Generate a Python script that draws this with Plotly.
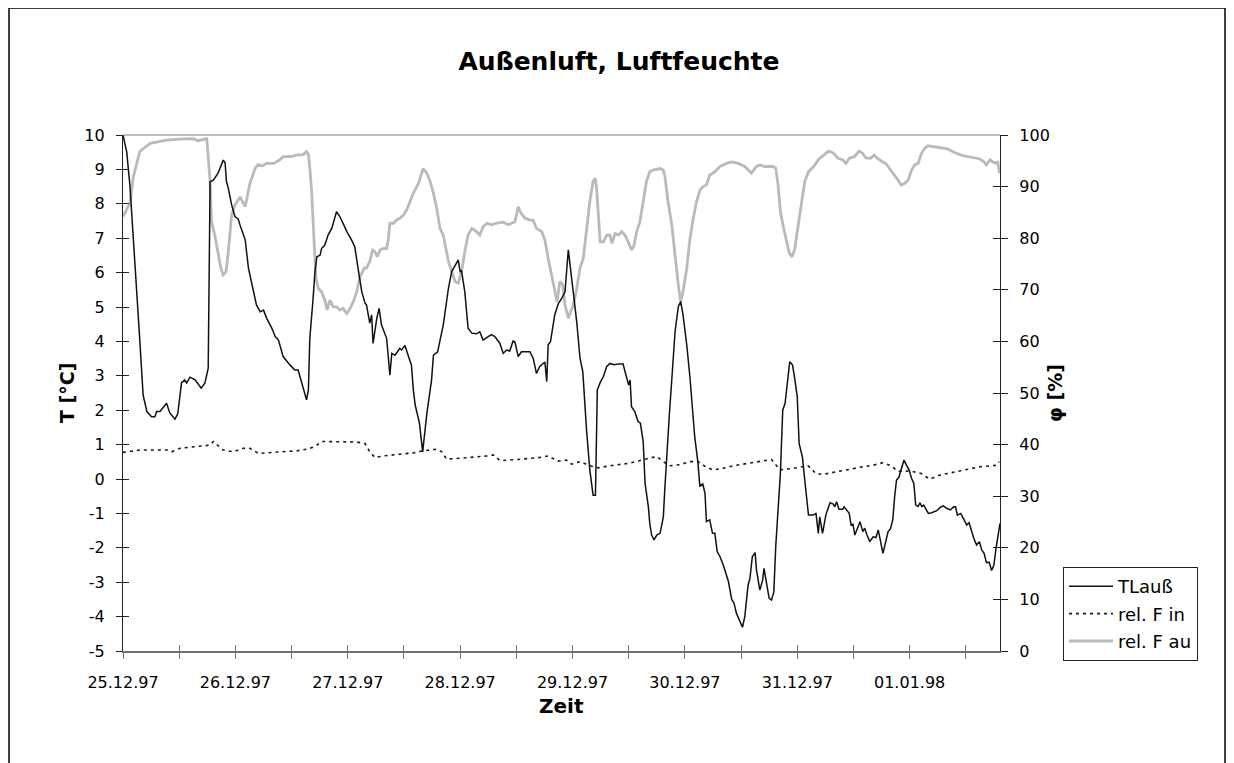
import plotly.graph_objects as go

# ---------------- data (time in hours since 25.12.97 00:00) ----------------
day_labels = ["25.12.97", "26.12.97", "27.12.97", "28.12.97",
              "29.12.97", "30.12.97", "31.12.97", "01.01.98"]
t_ticks = [-5, -4, -3, -2, -1, 0, 1, 2, 3, 4, 5, 6, 7, 8, 9, 10]
phi_ticks = [0, 10, 20, 30, 40, 50, 60, 70, 80, 90, 100]

t_hours = [0, 0.8, 1.5, 1.9, 2.2, 3.6, 4.3, 5.1, 6.1, 6.8, 7.2, 7.9, 9.3, 10.0, 11.1, 11.7,
           12.5, 13.2, 13.6, 14.3, 15.4, 16.7, 17.5, 18.2, 18.6, 19.3, 20.3, 21.4, 21.8, 22.1,
           22.5, 23.2, 23.9, 24.6, 25.0, 25.7, 26.1, 26.8, 27.5, 28.5, 29.3, 30.0, 30.7, 31.8,
           32.5, 33.2, 34.2, 35.0, 35.7, 36.7, 37.4, 38.5, 39.2, 39.6, 39.9, 40.6, 41.0, 41.4,
           42.1, 42.4, 43.1, 43.8, 44.6, 45.6, 46.3, 47.0, 47.8, 48.8, 49.5, 50.2, 51.0, 51.7,
           52.0, 52.7, 53.1, 53.4, 54.2, 54.7, 55.2, 56.3, 57.0, 57.4, 58.1, 59.1, 59.5, 60.2,
           60.9, 61.6, 62.0, 62.4, 63.3, 64.0, 64.9, 65.9, 66.3, 67.2, 68.4, 69.5, 70.2, 70.9,
           71.6, 72.0, 72.3, 73.0, 73.7, 74.5, 75.5, 76.2, 76.9, 78.0, 78.7, 79.4, 80.5, 81.2,
           81.9, 82.6, 83.3, 83.7, 84.4, 85.1, 86.2, 86.9, 87.6, 88.3, 89.0, 90.1, 90.5, 90.8,
           91.3, 92.2, 93.0, 93.7, 94.4, 95.1, 95.4, 96.2, 96.9, 97.6, 98.2, 99.0, 99.7, 100.4,
           100.9, 101.3, 101.9, 102.6, 103.3, 104.0, 104.9, 105.8, 106.8, 107.6, 108.0, 108.3,
           108.6, 109.3, 110.0, 110.5, 111.1, 111.5, 111.8, 112.2, 112.5, 112.9, 113.4, 114.0,
           114.7, 115.4, 115.7, 116.2, 116.7, 117.2, 117.9, 118.6, 119.1, 119.6, 120.4, 121.1,
           122.1, 122.8, 123.2, 123.8, 124.3, 124.6, 125.3, 125.9, 126.4, 126.9, 127.5, 128.2,
           128.8, 129.3, 130.0, 130.5, 131.0, 131.7, 132.3, 132.8, 133.5, 133.9, 134.4, 135.0,
           135.3, 136.0, 136.6, 136.9, 137.5, 138.0, 138.5, 139.0, 139.4, 139.9, 140.4, 140.9,
           141.4, 142.4, 143.0, 143.5, 144.0, 144.4, 145.1, 145.6, 146.1, 146.4, 147.4, 148.0,
           148.5, 148.8, 149.4, 150.1, 151.0, 151.7, 152.0, 152.4, 152.9, 153.7, 154.0, 154.5,
           155.1, 155.5, 155.9, 156.3, 156.8, 157.4, 158.0, 158.4, 158.9, 159.5, 160.2, 160.8,
           161.3, 161.9, 162.3, 162.9, 163.4, 163.9, 164.4, 164.8, 165.2, 165.7, 166.3, 166.8,
           167.3, 167.9, 168.4, 168.9, 169.3, 169.8, 170.2, 170.6, 171.0, 171.5, 172.0, 172.7,
           173.8, 174.6, 175.2, 175.9, 176.7, 177.4, 177.8, 178.2, 178.9, 179.3, 180.2, 180.7,
           181.2, 181.7, 182.3, 182.9, 183.4, 183.9, 184.4, 185.0, 185.5, 186.0, 186.4, 186.9,
           187.3]
t_laus = [10.0, 9.5, 8.5, 7.7, 6.9, 4.0, 2.44, 1.96, 1.81, 1.81, 1.96, 1.96, 2.2, 1.92, 1.74, 1.9,
          2.8, 2.88, 2.79, 2.96, 2.88, 2.64, 2.79, 3.22, 8.64, 8.69, 8.89, 9.27, 9.2, 8.64,
          8.45, 7.97, 7.63, 7.56, 7.38, 7.09, 6.95, 6.12, 5.64, 5.06, 4.86, 4.91, 4.67, 4.38,
          4.14, 4.04, 3.56, 3.41, 3.31, 3.17, 3.17, 2.64, 2.3, 2.6, 4.09, 5.25, 6.03, 6.46,
          6.51, 6.7, 6.8, 7.09, 7.29, 7.77, 7.63, 7.43, 7.19, 6.95, 6.75, 6.12, 5.44, 5.11,
          5.06, 4.53, 4.77, 3.94, 4.67, 4.96, 4.48, 4.09, 3.02, 3.65, 3.6, 3.8, 3.75, 3.88,
          3.6, 3.31, 2.6, 2.15, 1.63, 0.79, 1.91, 2.88, 3.6, 3.7, 4.48, 5.54, 6.03, 6.22,
          6.37, 6.03, 6.05, 5.44, 4.38, 4.24, 4.22, 4.28, 4.04, 4.14, 4.2, 4.14, 3.94, 3.65,
          3.75, 3.72, 4.01, 3.99, 3.56, 3.7, 3.7, 3.7, 3.51, 3.07, 3.27, 3.4, 2.83, 3.9,
          3.99, 4.77, 5.11, 5.25, 5.44, 6.66, 6.32, 5.44, 4.57, 3.51, 3.12, 1.42, 0.26, -0.47,
          -0.47, 2.59, 2.8, 2.98, 3.27, 3.36, 3.32, 3.34, 3.34, 2.93, 2.73, 2.88,
          2.1, 1.96, 1.67, 1.62, 1.08, -0.13, -0.42, -0.81, -1.29, -1.63, -1.77, -1.63,
          -1.58, -1.1, -0.32, 0.94, 1.91, 2.88, 4.28, 5.01, 5.16, 4.77, 3.9, 2.93,
          1.23, 0.46, -0.22, -0.13, -0.42, -1.24, -1.19, -1.58, -1.58, -2.11, -2.26, -2.5,
          -2.79, -2.98, -3.5, -3.61, -3.9, -4.1, -4.31, -4.0, -3.08, -2.89, -2.26, -2.14,
          -2.65, -3.23, -2.94, -2.6, -3.03, -3.47, -3.52, -3.28, -1.97, -1.0, 0.17, 2.0,
          2.2, 3.41, 3.31, 2.88, 2.39, 1.03, 0.64, -0.03, -0.61, -1.05, -1.05, -1.0,
          -1.58, -1.1, -1.58, -1.05, -0.69, -0.73, -0.81, -0.66, -0.88, -0.88, -0.81, -0.9,
          -1.0, -1.34, -1.31, -1.63, -1.43, -1.24, -1.53, -1.43, -1.63, -1.82, -1.68, -1.7,
          -1.48, -1.87, -2.16, -1.82, -1.53, -1.45, -1.19, -0.51, -0.03, 0.05, 0.31, 0.55,
          0.41, 0.26, 0.02, -0.13, -0.76, -0.8, -0.69, -0.8, -0.76, -0.9, -1.0, -0.98,
          -0.92, -0.82, -0.78, -0.85, -0.9, -0.81, -0.81, -1.05, -1.0, -1.1, -1.34, -1.27,
          -1.53, -1.72, -1.92, -1.82, -2.06, -2.16, -2.43, -2.42, -2.66, -2.5, -2.06, -1.63,
          -1.29]

fin_hours = [0, 3.6, 9.4, 10.4, 12.2, 16.4, 18.6, 19.3, 20.3, 21.4, 23.6, 25.7, 27.1, 28.9,
             30.7, 37.1, 39.2, 41.0, 42.4, 45.6, 49.9, 51.7, 52.7, 53.8, 55.6, 62.0, 64.1,
             67.0, 68.1, 69.1, 71.3, 77.7, 79.1, 80.5, 82.6, 89.0, 90.8, 92.9, 94.7, 95.8,
             97.6, 99.7, 101.5, 104.0, 108.3, 111.1, 114.0, 115.4, 116.8, 118.9, 121.1, 122.8,
             124.6, 126.0, 128.2, 130.3, 134.6, 138.5, 140.3, 143.1, 146.3, 148.1, 149.9,
             153.1, 157.4, 160.2, 162.3, 163.8, 165.6, 168.1, 170.5, 172.3, 174.5, 178.7,
             183.0, 186.6, 187.1]
rel_f_in = [38.5, 38.95, 38.95, 38.6, 39.3, 39.6, 39.9, 40.6, 39.9, 38.95, 38.6, 39.3, 39.3, 38.3,
            38.4, 38.8, 39.1, 39.6, 40.6, 40.5, 40.5, 40.2, 38.6, 37.5, 37.8, 38.4, 38.8,
            39.1, 38.6, 37.2, 37.3, 37.8, 38.0, 36.9, 37.0, 37.5, 37.8, 36.8, 37.0, 36.2,
            36.7, 35.9, 35.5, 35.9, 36.4, 37.1, 37.7, 36.7, 35.9, 36.1, 36.7, 36.7,
            35.6, 35.1, 35.4, 35.9, 36.5, 37.1, 35.1, 35.4, 35.9, 34.3, 34.3,
            34.9, 35.6, 36.0, 36.5, 36.0, 34.8, 34.9, 34.4, 33.3, 34.1, 34.9,
            35.7, 36.0, 36.7]

fau_hours = [0, 1.5, 2.2, 3.6, 5.8, 9.3, 12.0, 15.0, 16.0, 17.9, 18.6, 18.9, 19.6, 20.3, 20.9,
             21.4, 22.0, 22.5, 23.2, 23.9, 25.0, 26.1, 26.4, 27.1, 28.2, 28.9, 29.6, 30.7,
             32.2, 33.5, 34.2, 35.7, 37.1, 38.5, 39.2, 39.6, 39.9, 40.3, 40.6, 41.0, 41.2,
             41.7, 42.4, 43.1, 43.6, 44.2, 44.9, 45.6, 46.3, 47.0, 47.8, 48.5, 49.2, 49.9,
             50.6, 51.0, 51.5, 52.0, 52.7, 53.3, 53.8, 54.3, 54.9, 55.6, 56.3, 56.7, 57.0,
             57.8, 58.4, 59.2, 59.9, 60.6, 61.3, 62.0, 63.1, 64.1, 64.9, 65.6, 66.3, 67.0,
             67.7, 68.4, 69.5, 70.2, 70.9, 71.6, 72.3, 73.0, 73.7, 74.5, 75.5, 76.2, 76.9,
             77.7, 78.7, 79.8, 81.2, 82.3, 83.7, 84.4, 84.9, 85.8, 86.9, 87.6, 88.3, 89.4,
             90.1, 90.8, 91.5, 92.2, 92.7, 93.3, 93.9, 94.4, 95.1, 95.6, 96.2, 96.9, 97.6,
             98.3, 99.0, 99.7, 100.4, 100.9, 101.2, 101.5, 101.9, 102.6, 103.3, 104.0, 104.4,
             105.1, 105.8, 106.5, 107.2, 107.9, 108.6, 109.1, 109.7, 110.4, 111.1, 111.8,
             112.5, 113.2, 114.7, 115.4, 115.7, 116.4, 117.2, 117.9, 118.6, 119.1, 119.6,
             120.4, 121.1, 121.8, 122.5, 123.2, 123.9, 124.6, 125.3, 126.4, 127.5, 128.9,
             130.0, 131.4, 132.8, 134.2, 135.3, 136.0, 137.0, 138.8, 139.4, 139.9, 140.4,
             141.1, 141.8, 142.3, 142.9, 143.5, 144.0, 144.7, 145.6, 146.4, 147.5, 148.5,
             149.6, 150.7, 151.7, 152.7, 153.7, 154.4, 155.1, 156.2, 157.2, 157.9, 158.7,
             159.7, 160.4, 161.1, 162.2, 162.9, 163.7, 164.8, 165.5, 166.2, 166.9, 167.7,
             168.4, 169.1, 169.8, 170.5, 171.2, 171.9, 173.3, 174.7, 176.1, 177.6, 179.0,
             180.4, 181.8, 182.9, 183.9, 184.4, 185.2, 185.7, 186.4, 186.8, 187.2]
rel_f_au = [84.2, 86.8, 91.9, 96.8, 98.4, 99.0, 99.2, 99.3, 98.9, 99.3, 91.0, 83.2, 80.6, 77.4, 74.2,
            72.9, 73.5, 77.4, 84.5, 86.4, 88.0, 86.1, 87.5, 90.6, 93.5, 94.3, 94.0, 94.5,
            94.5, 95.2, 95.8, 95.8, 96.1, 96.2, 96.8, 96.2, 93.5, 89.0, 83.2, 76.1, 72.2,
            70.3, 69.6, 68.0, 66.1, 68.0, 66.7, 66.7, 66.1, 66.4, 65.4, 66.4, 67.7, 69.6,
            72.5, 73.2, 74.2, 74.2, 75.5, 77.7, 77.4, 76.4, 77.7, 78.0, 78.0, 80.0, 82.9,
            82.9, 83.5, 83.9, 84.5, 85.5, 87.1, 88.7, 90.6, 93.5, 92.6, 91.0, 88.7, 85.8,
            81.9, 80.6, 75.5, 73.5, 71.6, 71.3, 73.5, 77.4, 80.6, 81.9, 81.3, 80.6, 82.2,
            82.9, 82.6, 82.9, 83.1, 82.6, 83.2, 86.1, 85.0, 83.9, 83.5, 83.5, 81.9, 81.3,
            79.7, 76.1, 72.9, 69.3, 67.7, 71.6, 71.0, 67.1, 64.5, 65.8, 67.1, 70.3, 74.2,
            76.1, 81.3, 87.1, 91.0, 91.6, 89.0, 83.9, 79.3, 79.3, 80.6, 80.6, 79.0,
            80.9, 80.6, 81.3, 80.6, 79.3, 77.7, 78.5, 81.3, 83.2, 87.1, 91.0,
            92.9, 93.2, 93.5, 93.2, 92.2, 87.1, 82.6, 76.1, 70.9, 67.7, 69.6,
            74.2, 80.0, 83.9, 87.1, 89.3, 90.0, 90.3, 92.2, 92.9, 93.9, 94.5,
            94.8, 94.5, 93.9, 92.6, 93.9, 94.2, 93.9, 93.9, 93.6, 90.3, 85.1,
            81.9, 78.7, 77.1, 76.4, 78.0, 81.3, 85.8, 91.0, 92.9, 93.9, 95.2,
            96.1, 96.9, 96.5, 95.5, 95.2, 94.5, 95.5, 95.8, 96.9, 96.5, 95.5,
            95.5, 96.1, 95.5, 94.8, 94.5, 93.5, 92.2, 91.3, 90.3, 90.6, 91.3,
            93.2, 94.2, 94.5, 96.4, 97.4, 97.9, 97.7, 97.4, 97.3, 96.6, 96.1,
            95.8, 95.5, 95.4, 94.8, 94.2, 95.2, 94.8, 94.5, 94.9, 92.6]

# ---------------- figure ----------------
FONT = "DejaVu Sans, Liberation Sans, Arial, sans-serif"
X_END = 187.3
tick_hours = list(range(0, 181, 12))
tick_text = [day_labels[i // 2] if i % 2 == 0 else "" for i in range(len(tick_hours))]
t_tick_text = [str(v) for v in t_ticks]          # plain hyphen-minus like the original
phi_tick_text = [str(v) for v in phi_ticks]

# page body adds an 8px offset; the figure is sized so that it fills the window exactly
W, H = 1226, 755
ML, MR, MT, MB = 115, 234, 127, 112
PW = W - ML - MR          # plot width in px
PH = H - MT - MB          # plot height in px

fig = go.Figure()

fig.add_trace(go.Scatter(x=fau_hours, y=rel_f_au, name="rel. F au", mode="lines",
                         line=dict(color="#bababa", width=2.8),
                         xaxis="x", yaxis="y", legendrank=3, legendgroup="c"))
fig.add_trace(go.Scatter(x=fin_hours, y=rel_f_in, name="rel. F in", mode="lines",
                         line=dict(color="#1a1a1a", width=1.6, dash="3px,4px"),
                         xaxis="x", yaxis="y", legendrank=2, legendgroup="b"))
fig.add_trace(go.Scatter(x=t_hours, y=t_laus, name="TLauß", mode="lines",
                         line=dict(color="#111111", width=1.5),
                         xaxis="x", yaxis="y2", legendrank=1, legendgroup="a"))

tickfont = dict(family=FONT, size=16, color="#000")

fig.update_layout(
    width=W, height=H,
    margin=dict(l=ML, r=MR, t=MT, b=MB),
    paper_bgcolor="white", plot_bgcolor="white",
    showlegend=True,
    title=dict(text="<b>Außenluft, Luftfeuchte</b>", x=611 / W, xanchor="center",
               xref="container", y=1 - 53 / H, yanchor="middle", yref="container",
               font=dict(family=FONT, size=25, color="#000")),
    xaxis=dict(range=[0, X_END], tickmode="array", tickvals=tick_hours, ticktext=tick_text,
               ticks="outside", ticklen=6, tickcolor="#707070", tickwidth=1,
               showline=True, linecolor="#707070", linewidth=2, showgrid=False,
               zeroline=False, tickfont=tickfont, ticklabelstandoff=10, anchor="y"),
    xaxis2=dict(range=[0, X_END], overlaying="x", anchor="y", side="bottom",
                tickmode="array", tickvals=tick_hours, ticks="inside", ticklen=6,
                tickcolor="#707070", showticklabels=False, showline=False,
                showgrid=False, zeroline=False),
    yaxis=dict(range=[0, 100], tickmode="array", tickvals=phi_ticks, ticktext=phi_tick_text,
               side="right", ticks="outside", ticklen=7, tickcolor="#222", showline=True,
               linecolor="#222", linewidth=1.2, showgrid=False, zeroline=False,
               tickfont=tickfont, ticklabelstandoff=8, anchor="x"),
    yaxis2=dict(range=[-5, 10], tickmode="array", tickvals=t_ticks, ticktext=t_tick_text,
                side="left", overlaying="y", ticks="outside", ticklen=6, tickcolor="#222",
                showline=True, linecolor="#222", linewidth=1.2, showgrid=False,
                zeroline=False, tickfont=tickfont, ticklabelstandoff=8, anchor="x"),
    yaxis3=dict(range=[0, 100], tickmode="array", tickvals=phi_ticks, side="right",
                overlaying="y", ticks="inside", ticklen=7, tickcolor="#222",
                showticklabels=False, showline=False, showgrid=False, zeroline=False,
                anchor="x"),
    yaxis4=dict(range=[-5, 10], tickmode="array", tickvals=t_ticks, side="left",
                overlaying="y", ticks="inside", ticklen=6, tickcolor="#222",
                showticklabels=False, showline=False, showgrid=False, zeroline=False,
                anchor="x"),
    legend=dict(x=(1055 - ML) / PW, y=(MT + PH - 559) / PH, xanchor="left", yanchor="top",
                bgcolor="white", bordercolor="#222", borderwidth=1,
                font=dict(family=FONT, size=18, color="#000"), traceorder="grouped",
                tracegroupgap=1, itemwidth=44),
)

# empty helper traces so the tick-only overlay axes are rendered
fig.add_trace(go.Scatter(x=[None], y=[None], xaxis="x2", yaxis="y3", showlegend=False,
                         hoverinfo="skip"))
fig.add_trace(go.Scatter(x=[None], y=[None], xaxis="x2", yaxis="y4", showlegend=False,
                         hoverinfo="skip"))

# plot-area top border and outer chart frame
fig.add_shape(type="line", xref="paper", yref="paper", x0=0, x1=1, y0=1, y1=1,
              line=dict(color="#808080", width=1.2))
fig.add_shape(type="rect", xref="paper", yref="paper",
              x0=(1 - ML) / PW, x1=(1217 - ML) / PW, y0=-0.25, y1=(MT + PH - 0) / PH,
              line=dict(color="#000", width=1.5), fillcolor="rgba(0,0,0,0)")

# axis titles
fig.add_annotation(text="<b>T [°C]</b>", xref="paper", yref="paper",
                   x=(46 - ML) / PW, y=0.5, textangle=-90, showarrow=False,
                   font=dict(family=FONT, size=19, color="#000"))
fig.add_annotation(text="<b>φ [%]</b>", xref="paper", yref="paper",
                   x=(1060 - ML) / PW, y=0.5, textangle=-90, showarrow=False,
                   font=dict(family=FONT, size=19, color="#000"))
fig.add_annotation(text="<b>Zeit</b>", xref="paper", yref="paper",
                   x=0.5, y=-(712 - MT - PH) / PH, showarrow=False,
                   font=dict(family=FONT, size=20, color="#000"))

fig.write_html("out.html")
